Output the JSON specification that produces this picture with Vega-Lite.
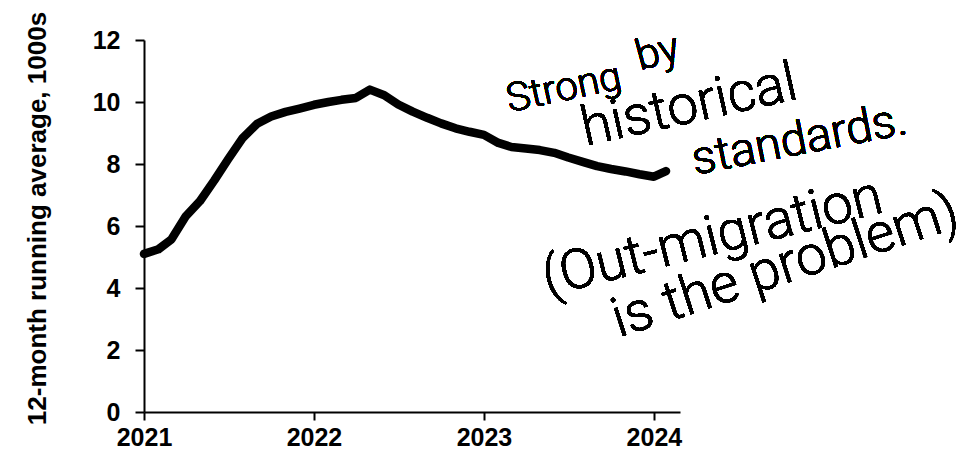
{
  "$schema": "https://vega.github.io/schema/vega-lite/v6.json",
  "autosize": "none",
  "width": 536,
  "height": 372,
  "padding": {"left": 144, "top": 40, "right": 291, "bottom": 44},
  "background": "white",
  "config": {"view": {"stroke": null}},
  "data": {"values": [
    {"date": "2021-01-01", "value": 5.1},
    {"date": "2021-02-01", "value": 5.25},
    {"date": "2021-03-01", "value": 5.57},
    {"date": "2021-04-01", "value": 6.32},
    {"date": "2021-05-01", "value": 6.8},
    {"date": "2021-06-01", "value": 7.47},
    {"date": "2021-07-01", "value": 8.16},
    {"date": "2021-08-01", "value": 8.84},
    {"date": "2021-09-01", "value": 9.3},
    {"date": "2021-10-01", "value": 9.53},
    {"date": "2021-11-01", "value": 9.68},
    {"date": "2021-12-01", "value": 9.79},
    {"date": "2022-01-01", "value": 9.91},
    {"date": "2022-02-01", "value": 10.0},
    {"date": "2022-03-01", "value": 10.07},
    {"date": "2022-04-01", "value": 10.13},
    {"date": "2022-05-01", "value": 10.4},
    {"date": "2022-06-01", "value": 10.22},
    {"date": "2022-07-01", "value": 9.92},
    {"date": "2022-08-01", "value": 9.69},
    {"date": "2022-09-01", "value": 9.49},
    {"date": "2022-10-01", "value": 9.31},
    {"date": "2022-11-01", "value": 9.15},
    {"date": "2022-12-01", "value": 9.04},
    {"date": "2023-01-01", "value": 8.94},
    {"date": "2023-02-01", "value": 8.68},
    {"date": "2023-03-01", "value": 8.55},
    {"date": "2023-04-01", "value": 8.5},
    {"date": "2023-05-01", "value": 8.45},
    {"date": "2023-06-01", "value": 8.36},
    {"date": "2023-07-01", "value": 8.21},
    {"date": "2023-08-01", "value": 8.07},
    {"date": "2023-09-01", "value": 7.93},
    {"date": "2023-10-01", "value": 7.84},
    {"date": "2023-11-01", "value": 7.76},
    {"date": "2023-12-01", "value": 7.67},
    {"date": "2024-01-01", "value": 7.59},
    {"date": "2024-01-27", "value": 7.77}
  ]},
  "layer": [
    {
      "mark": {"type": "line", "color": "black", "strokeWidth": 8.5, "strokeCap": "round", "strokeJoin": "round"},
      "encoding": {
        "x": {
          "field": "date", "type": "temporal",
          "scale": {"type": "utc", "domain": [{"year": 2021, "month": 1, "date": 1, "utc": true}, {"year": 2024, "month": 2, "date": 26, "utc": true}]},
          "axis": {
            "title": null,
            "values": [{"year": 2021, "month": 1, "date": 1, "utc": true}, {"year": 2022, "month": 1, "date": 1, "utc": true}, {"year": 2023, "month": 1, "date": 1, "utc": true}, {"year": 2024, "month": 1, "date": 1, "utc": true}],
            "format": "%Y", "formatType": "utc",
            "grid": false,
            "domainColor": "black", "domainWidth": 2,
            "tickColor": "black", "tickWidth": 2, "tickSize": 8,
            "labelFont": "Liberation Sans", "labelFontWeight": "bold", "labelFontSize": 25, "labelColor": "black",
            "labelPadding": 5, "labelFlush": false, "labelOverlap": false
          }
        },
        "y": {
          "field": "value", "type": "quantitative",
          "scale": {"domain": [0, 12], "nice": false, "zero": true},
          "axis": {
            "title": "12-month running average, 1000s",
            "values": [0, 2, 4, 6, 8, 10, 12],
            "grid": false,
            "domainColor": "black", "domainWidth": 2,
            "tickColor": "black", "tickWidth": 2, "tickSize": 9,
            "labelFont": "Liberation Sans", "labelFontWeight": "bold", "labelFontSize": 25, "labelColor": "black",
            "labelPadding": 15, "labelFlush": false, "labelOverlap": false,
            "titleFont": "Liberation Sans", "titleFontWeight": "bold", "titleFontSize": 26, "titleColor": "black",
            "titleAngle": -90, "titleAlign": "center", "titleBaseline": "alphabetic",
            "titleX": -99, "titleY": 178
          }
        }
      }
    },
    {
      "mark": {"type": "text", "text": "Strong", "angle": -12, "font": "Roboto", "fontWeight": 300, "fontSize": 40, "align": "center", "baseline": "alphabetic", "color": "black"},
      "encoding": {
        "x": {"datum": {"year": 2023, "month": 6, "date": 27, "utc": true}, "type": "temporal"},
        "y": {"datum": 10.06, "type": "quantitative"}
      }
    },
    {
      "mark": {"type": "text", "text": "by", "angle": -15, "font": "Roboto", "fontWeight": 300, "fontSize": 42, "align": "center", "baseline": "alphabetic", "color": "black"},
      "encoding": {
        "x": {"datum": {"year": 2024, "month": 1, "date": 16, "utc": true}, "type": "temporal"},
        "y": {"datum": 11.2, "type": "quantitative"}
      }
    },
    {
      "mark": {"type": "text", "text": "historical", "angle": -12.5, "font": "Roboto", "fontWeight": 300, "fontSize": 55, "align": "center", "baseline": "alphabetic", "color": "black"},
      "encoding": {
        "x": {"datum": {"year": 2024, "month": 3, "date": 24, "utc": true}, "type": "temporal"},
        "y": {"datum": 9.35, "type": "quantitative"}
      }
    },
    {
      "mark": {"type": "text", "text": "standards.", "angle": -11, "font": "Roboto", "fontWeight": 300, "fontSize": 47, "align": "center", "baseline": "alphabetic", "color": "black"},
      "encoding": {
        "x": {"datum": {"year": 2024, "month": 11, "date": 14, "utc": true}, "type": "temporal"},
        "y": {"datum": 8.32, "type": "quantitative"}
      }
    },
    {
      "mark": {"type": "text", "text": "(Out-migration", "angle": -14, "font": "Roboto", "fontWeight": 300, "fontSize": 55, "align": "center", "baseline": "alphabetic", "color": "black"},
      "encoding": {
        "x": {"datum": {"year": 2024, "month": 5, "date": 14, "utc": true}, "type": "temporal"},
        "y": {"datum": 5.1, "type": "quantitative"}
      }
    },
    {
      "mark": {"type": "text", "text": "is the problem)", "angle": -18, "font": "Roboto", "fontWeight": 300, "fontSize": 55, "align": "center", "baseline": "alphabetic", "color": "black"},
      "encoding": {
        "x": {"datum": {"year": 2024, "month": 10, "date": 20, "utc": true}, "type": "temporal"},
        "y": {"datum": 4.2, "type": "quantitative"}
      }
    }
  ]
}
